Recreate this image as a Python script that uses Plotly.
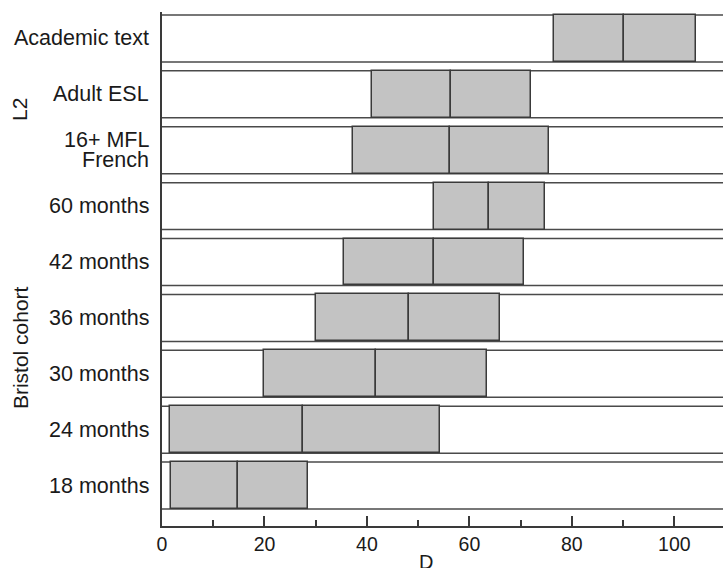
import plotly.graph_objects as go

# Data (bottom to top)
categories = ["18 months", "24 months", "30 months", "36 months", "42 months",
              "60 months", "16+ MFL<br>French", "Adult ESL", "Academic text"]
low = [1.8, 1.6, 19.9, 30.0, 35.5, 53.1, 37.3, 40.9, 76.6]
mid = [14.9, 27.6, 41.7, 48.2, 53.1, 63.9, 56.3, 56.4, 90.2]
high = [28.5, 54.2, 63.4, 66.0, 70.7, 74.8, 75.5, 72.0, 104.2]
groups = [("Bristol cohort", 2.46), ("L2", 6.72)]
x_ticks = [0, 20, 40, 60, 80, 100]

pos = list(range(len(categories)))
H = 0.42
FILL = "#c3c3c3"
EDGE = "#3a3a3a"
FONT = "Liberation Sans, Arial, Helvetica, sans-serif"

fig = go.Figure()
fig.add_trace(go.Bar(orientation="h", y=pos, base=low,
                     x=[m - l for m, l in zip(mid, low)], width=2 * H,
                     marker=dict(color=FILL, line=dict(color=EDGE, width=1.5)),
                     hoverinfo="skip"))
fig.add_trace(go.Bar(orientation="h", y=pos, base=mid,
                     x=[h - m for h, m in zip(high, mid)], width=2 * H,
                     marker=dict(color=FILL, line=dict(color=EDGE, width=1.5)),
                     hoverinfo="skip"))

shapes = []
for p in pos:
    for yy in (p - H, p + H):
        shapes.append(dict(type="line", xref="paper", x0=0, x1=1, yref="y",
                           y0=yy, y1=yy, line=dict(color="#4a4a4a", width=1.5),
                           layer="below"))

annotations = []
for p, c in zip(pos, categories):
    lines = c.split("<br>")
    n = len(lines)
    for k, t in enumerate(lines):
        off = (k - (n - 1) / 2) * -20
        annotations.append(dict(text=t, xref="paper", x=0, xshift=-11, xanchor="right",
                                yref="y", y=p, yshift=off, yanchor="middle",
                                showarrow=False, font=dict(family=FONT, size=21.5, color="#1a1a1a")))
for g, gy in groups:
    annotations.append(dict(text=g, xref="paper", x=-0.2531, xanchor="center",
                            yref="y", y=gy, yanchor="middle", textangle=-90,
                            showarrow=False, font=dict(family=FONT, size=21, color="#1a1a1a")))
annotations.append(dict(text="D", xref="x", x=51.5, xanchor="center",
                        yref="paper", y=-0.045, yanchor="top", showarrow=False,
                        font=dict(family=FONT, size=20, color="#1a1a1a")))

fig.update_layout(
    width=723, height=568,
    margin=dict(l=162, r=0, t=12, b=42),
    paper_bgcolor="white", plot_bgcolor="white",
    showlegend=False, barmode="overlay", bargap=0,
    shapes=shapes, annotations=annotations,
    xaxis=dict(range=[0, 109.5], tickvals=x_ticks, ticks="inside", ticklen=10,
               tickwidth=1.5, tickcolor=EDGE, showline=True, linecolor=EDGE,
               linewidth=1.5, showgrid=False, zeroline=False,
               tickfont=dict(family=FONT, size=19.5, color="#1a1a1a"),
               minor=dict(ticks="inside", ticklen=6, dtick=10, tick0=0,
                          tickwidth=1.5, tickcolor=EDGE, showgrid=False)),
    yaxis=dict(range=[-0.723, 8.473], showticklabels=False, ticks="",
               showline=True, linecolor=EDGE, linewidth=1.5,
               showgrid=False, zeroline=False),
)

fig.write_html("out.html", config={"displayModeBar": False},
               post_script="document.body.style.margin='0';document.body.style.overflow='hidden';")
